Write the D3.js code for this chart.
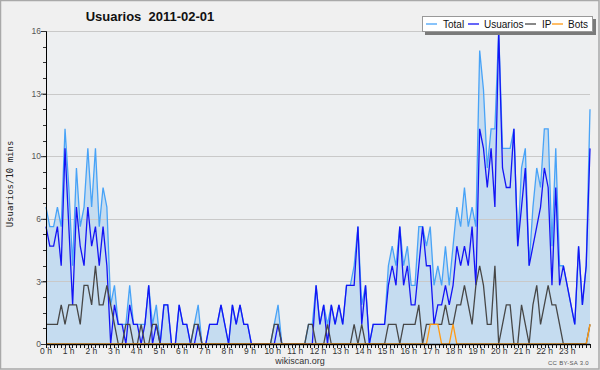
<!DOCTYPE html>
<html>
<head>
<meta charset="utf-8">
<script src="https://cdn.jsdelivr.net/npm/d3@7"></script>
<style>
  body { margin: 0; background: #f0f0f0; }
  svg { display: block; }
</style>
</head>
<body>
<script>
// users per 10 minute slot, 144 slots for the day (0 h .. 23 h 50)
var usuarios = [
  6,5,5,6,4,10,6,2,7,5,4,7,5,6,4,6,4,0,
  2,1,1,0,2,1,1,0,1,3,0,1,0,2,2,0,0,2,
  1,1,0,0,1,0,0,1,1,1,2,1,0,2,1,2,1,1,
  0,0,0,0,0,0,0,1,0,0,0,0,0,0,0,0,0,3,
  1,2,0,2,1,2,1,3,3,3,6,1,3,0,1,1,1,1,
  3,4,3,6,3,4,2,2,4,6,4,4,1,2,2,3,2,3,
  5,4,5,4,6,3,11,10,8,10,7,16,9,8,8,11,5,7,
  9,4,5,6,7,9,8,3,8,3,4,3,2,1,5,2,4,10
];
var ip = [
  1,1,1,1,2,1,2,2,2,1,3,3,2,4,2,2,3,2,
  1,0,0,1,1,0,0,1,0,0,1,1,0,0,0,0,0,0,
  0,0,0,1,1,0,0,0,0,0,0,0,0,0,0,0,0,0,
  0,0,0,0,0,0,1,1,0,0,0,0,0,0,0,1,1,0,
  0,0,1,0,0,0,0,0,0,1,0,1,0,0,0,0,0,0,
  1,1,1,0,1,1,1,1,2,0,1,1,1,1,1,2,1,1,
  2,2,3,2,1,3,4,3,1,1,4,0,1,2,2,0,0,2,
  1,0,2,3,1,2,3,2,2,1,0,0,0,0,0,0,0,1
];
var bots = [
  0,0,0,0,0,0,0,0,0,0,0,0,0,0,0,0,0,0,
  0,0,0,0,0,0,0,0,0,0,0,0,0,0,0,0,0,0,
  0,0,0,0,0,0,0,0,0,0,0,0,0,0,0,0,0,0,
  0,0,0,0,0,0,0,0,0,0,0,0,0,0,0,0,0,0,
  0,0,0,0,0,0,0,0,0,0,0,0,0,0,0,0,0,0,
  0,0,0,0,0,0,0,0,0,0,0,1,1,1,0,0,0,1,
  0,0,0,0,0,0,0,0,0,0,0,0,0,0,0,0,0,0,
  0,0,0,0,0,0,0,0,0,0,0,0,0,0,0,0,0,1
];
var total = [
  7,6,6,7,6,11,8,4,9,6,7,10,7,10,6,8,7,2,
  3,1,1,1,3,1,1,1,1,3,1,2,0,2,2,0,0,2,
  1,1,0,1,2,0,0,1,1,1,2,1,0,2,1,2,1,1,
  0,0,0,0,0,0,1,2,0,0,0,0,0,0,0,1,1,3,
  1,2,1,2,1,2,1,3,3,4,6,2,3,0,1,1,1,1,
  4,5,4,6,4,5,3,3,6,6,5,6,3,4,3,5,3,5,
  7,6,8,6,7,6,15,13,9,11,11,16,10,10,10,11,5,9,
  10,4,7,9,8,11,11,5,10,4,4,3,2,1,5,2,4,12
];

var yTicks = [0, 3.2, 6.4, 9.6, 12.8, 16];
var hours = d3.range(24);
var seriesNames = ['Total', 'Usuarios', 'IP', 'Bots'];
var seriesColors = ['#48a3f7', '#1414f5', '#474747', '#ff9a14'];

var width = 600, height = 370;
var margin = {left: 46, right: 10, top: 31, bottom: 26};

var svg = d3.select('body')
  .append('svg')
  .attr('width', width)
  .attr('height', height);

// page frame
svg.append('rect')
  .attr('x', 0.5).attr('y', 0.5)
  .attr('width', width - 1.5).attr('height', height - 1.5)
  .attr('fill', '#f0f0f0')
  .attr('stroke', '#a9a9a9')
  .attr('stroke-width', 1.5);

var x = d3.scaleLinear().domain([0, total.length - 1]).range([margin.left, width - margin.right]);
var xHour = d3.scaleLinear().domain([0, 24]).range([margin.left, width - margin.right]);
var y = d3.scaleLinear().domain([0, 16]).range([height - margin.bottom, margin.top]);

// plot background
svg.append('rect')
  .attr('x', margin.left).attr('y', margin.top)
  .attr('width', width - margin.left - margin.right)
  .attr('height', height - margin.top - margin.bottom)
  .attr('fill', '#edeff1');

// area under total
var area = d3.area()
  .x(function(d, i) { return x(i); })
  .y0(y(0))
  .y1(function(d) { return y(d); });

svg.append('path')
  .datum(total)
  .attr('d', area)
  .attr('fill', '#c5dcf0');

// grid lines
svg.append('g')
  .selectAll('line')
  .data(yTicks.slice(1))
  .enter()
  .append('line')
  .attr('x1', margin.left).attr('x2', width - margin.right)
  .attr('y1', function(d) { return Math.round(y(d)) + 0.5; })
  .attr('y2', function(d) { return Math.round(y(d)) + 0.5; })
  .attr('stroke', '#c9c9c9')
  .attr('stroke-width', 1);

// lines
var line = d3.line()
  .x(function(d, i) { return x(i); })
  .y(function(d) { return y(d); });

[total, usuarios, ip, bots].forEach(function(s, k) {
  svg.append('path')
    .datum(s)
    .attr('d', line)
    .attr('fill', 'none')
    .attr('stroke', seriesColors[k])
    .attr('stroke-width', 1.3)
    .attr('stroke-linejoin', 'miter');
});

// y axis
var yAxis = d3.axisLeft(y)
  .tickValues(yTicks)
  .tickSize(5)
  .tickFormat(function(d) { return Math.round(d); });

var gy = svg.append('g')
  .attr('transform', 'translate(' + margin.left + ',0)')
  .call(yAxis);
gy.select('.domain').attr('stroke', '#000');
gy.selectAll('.tick line').attr('stroke', '#333');
gy.selectAll('.tick text')
  .attr('x', -5)
  .attr('font-family', 'Liberation Sans, Arial, sans-serif')
  .attr('font-size', 8.5)
  .attr('fill', '#555');

// y minor ticks
svg.append('g')
  .selectAll('line')
  .data(d3.range(0, 16.01, 0.8))
  .enter()
  .append('line')
  .attr('x1', margin.left - 3).attr('x2', margin.left)
  .attr('y1', function(d) { return Math.round(y(d)) + 0.5; })
  .attr('y2', function(d) { return Math.round(y(d)) + 0.5; })
  .attr('stroke', '#333');

// x axis with 10 minute ticks
var gx = svg.append('g')
  .attr('transform', 'translate(0,' + (height - margin.bottom) + ')');

gx.append('line')
  .attr('x1', margin.left).attr('x2', width - margin.right)
  .attr('y1', 0.5).attr('y2', 0.5)
  .attr('stroke', '#000')
  .attr('stroke-width', 1.5);

gx.selectAll('.minor')
  .data(d3.range(0, 24.001, 1 / 6))
  .enter()
  .append('line')
  .attr('class', 'minor')
  .attr('x1', function(d) { return Math.round(xHour(d)) + 0.5; })
  .attr('x2', function(d) { return Math.round(xHour(d)) + 0.5; })
  .attr('y1', 0).attr('y2', 4)
  .attr('stroke', '#111');

gx.selectAll('.hlabel')
  .data(hours)
  .enter()
  .append('text')
  .attr('class', 'hlabel')
  .attr('x', function(d) { return xHour(d); })
  .attr('y', 9.5)
  .attr('text-anchor', 'middle')
  .attr('font-family', 'Liberation Sans, Arial, sans-serif')
  .attr('font-size', 8.5)
  .attr('fill', '#333')
  .text(function(d) { return d + ' h'; });

// title
svg.append('text')
  .attr('x', 150).attr('y', 21)
  .attr('text-anchor', 'middle')
  .attr('font-family', 'Liberation Sans, Arial, sans-serif')
  .attr('font-weight', 'bold')
  .attr('font-size', 13)
  .attr('fill', '#111')
  .style('white-space', 'pre')
  .text('Usuarios  2011-02-01');

// y axis title
svg.append('text')
  .attr('transform', 'translate(13,184) rotate(-90)')
  .attr('text-anchor', 'middle')
  .attr('font-family', 'DejaVu Sans Mono, monospace')
  .attr('font-size', 9)
  .attr('fill', '#222')
  .text('Usuarios/10 mins');

// footer
svg.append('text')
  .attr('x', 300).attr('y', 364)
  .attr('text-anchor', 'middle')
  .attr('font-family', 'Liberation Sans, Arial, sans-serif')
  .attr('font-size', 9)
  .attr('fill', '#333')
  .text('wikiscan.org');

svg.append('text')
  .attr('x', 589).attr('y', 365)
  .attr('text-anchor', 'end')
  .attr('font-family', 'Liberation Sans, Arial, sans-serif')
  .attr('font-size', 6)
  .attr('letter-spacing', 0.3)
  .attr('fill', '#555')
  .text('CC BY-SA 3.0');

// legend
var legend = svg.append('g').attr('transform', 'translate(422,16)');
legend.append('rect')
  .attr('x', 3).attr('y', 3).attr('width', 171).attr('height', 16)
  .attr('fill', '#7a7a7a');
legend.append('rect')
  .attr('x', 0.5).attr('y', 0.5).attr('width', 170).attr('height', 15)
  .attr('fill', '#fff')
  .attr('stroke', '#999');

var legendX = [4, 46, 103, 130];
var legendTextX = [21, 62, 120, 146];
seriesNames.forEach(function(name, k) {
  legend.append('line')
    .attr('x1', legendX[k]).attr('x2', legendX[k] + 11)
    .attr('y1', 8).attr('y2', 8)
    .attr('stroke', seriesColors[k])
    .attr('stroke-width', 1.3);
  legend.append('text')
    .attr('x', legendTextX[k]).attr('y', 11.5)
    .attr('font-family', 'Liberation Sans, Arial, sans-serif')
    .attr('font-size', 10)
    .attr('fill', '#111')
    .text(name);
});
</script>
</body>
</html>
